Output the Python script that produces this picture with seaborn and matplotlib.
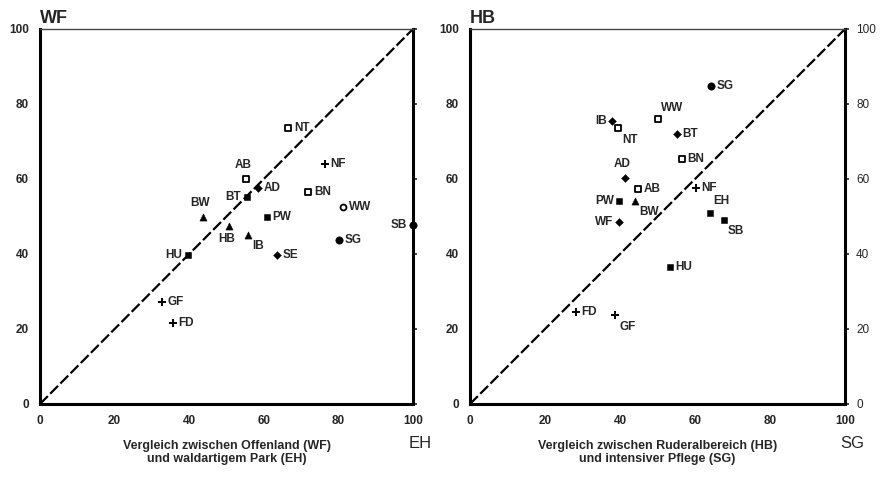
import pandas as pd
import numpy as np
import matplotlib
matplotlib.use("Agg")
import matplotlib.pyplot as plt
import seaborn as sns

sns.set_style("white")
plt.rcParams['font.family'] = ['Liberation Sans', 'DejaVu Sans']

# Left panel: WF (y) vs EH (x)
left_sites = ['NT', 'AB', 'AD', 'BT', 'NF', 'BN', 'WW', 'BW', 'PW', 'HB', 'IB',
              'SE', 'SG', 'HU', 'SB', 'GF', 'FD']
left_eh = [66.6, 55.1, 58.5, 55.4, 76.4, 71.9, 81.3, 43.6, 60.8, 50.8, 55.8,
           63.5, 80.2, 39.7, 100.0, 32.6, 35.7]
left_wf = [73.5, 59.9, 57.5, 55.3, 64.0, 56.6, 52.6, 49.8, 49.9, 47.5, 45.1,
           39.7, 43.6, 39.7, 47.6, 27.3, 21.5]

# Right panel: HB (y) vs SG (x)
right_sites = ['SG', 'WW', 'IB', 'NT', 'BT', 'BN', 'AD', 'AB', 'NF', 'PW', 'BW',
               'EH', 'SB', 'WF', 'HU', 'FD', 'GF']
right_sg = [64.2, 50.2, 37.9, 39.5, 55.1, 56.4, 41.3, 44.9, 60.3, 39.8, 44.0,
            64.0, 67.6, 39.8, 53.3, 28.3, 38.7]
right_hb = [84.9, 75.9, 75.5, 73.6, 72.0, 65.2, 60.2, 57.2, 57.5, 54.2, 54.2,
            51.0, 49.1, 48.4, 36.6, 24.5, 23.7]

ticks = [0, 20, 40, 60, 80, 100]

# marker kind and label placement per site
left_style = {
    'NT': ('os', 'r'), 'AB': ('os', 'al'), 'AD': ('dia', 'r'), 'BT': ('fs', 'l'),
    'NF': ('plus', 'r'), 'BN': ('os', 'r'), 'WW': ('oc', 'r'), 'BW': ('tri', 'al'),
    'PW': ('fs', 'r'), 'HB': ('tri', 'b'), 'IB': ('tri', 'br'), 'SE': ('dia', 'r'),
    'SG': ('fc', 'r'), 'HU': ('fs', 'l'), 'SB': ('fc', 'l'), 'GF': ('plus', 'r'),
    'FD': ('plus', 'r'),
}
right_style = {
    'SG': ('fc', 'r'), 'WW': ('os', 'ar'), 'IB': ('dia', 'l'), 'NT': ('os', 'br'),
    'BT': ('dia', 'r'), 'BN': ('os', 'r'), 'AD': ('dia', 'al'), 'AB': ('os', 'r'),
    'NF': ('plus', 'r'), 'PW': ('fs', 'l'), 'BW': ('tri', 'br'), 'EH': ('fs', 'ar'),
    'SB': ('fs', 'br'), 'WF': ('dia', 'l'), 'HU': ('fs', 'r'), 'FD': ('plus', 'r'),
    'GF': ('plus', 'br'),
}

marker_kw = {
    'os': dict(marker='s', color='white', edgecolor='black', linewidth=1.3, s=22),
    'fs': dict(marker='s', color='black', edgecolor='black', s=22),
    'dia': dict(marker='D', color='black', edgecolor='black', s=16),
    'tri': dict(marker='^', color='black', edgecolor='black', s=26),
    'fc': dict(marker='o', color='black', edgecolor='black', s=28),
    'oc': dict(marker='o', color='white', edgecolor='black', linewidth=1.3, s=18),
    'plus': dict(marker='+', color='black', linewidth=1.4, s=30),
}

offsets = {
    'r': (4, 0, 'left', 'center'),
    'l': (-4, 0, 'right', 'center'),
    'al': (-2, 6, 'center', 'bottom'),
    'ar': (2, 4, 'left', 'bottom'),
    'b': (-2, -5, 'center', 'top'),
    'br': (3, -4, 'left', 'top'),
}


def draw_panel(ax, df, style, title, corner, xlabel):
    for kind, kw in marker_kw.items():
        sub = df[[style[s][0] == kind for s in df['site']]]
        if len(sub):
            sns.scatterplot(data=sub, x='x', y='y', ax=ax, legend=False,
                            zorder=3, clip_on=False, **kw)
    for _, row in df.iterrows():
        dx, dy, ha, va = offsets[style[row['site']][1]]
        ax.annotate(row['site'], (row['x'], row['y']), xytext=(dx, dy),
                    textcoords='offset points', ha=ha, va=va, fontsize=8.5,
                    fontweight='bold', zorder=4)
    ax.plot([0, 100], [0, 100], color='black', linestyle=(0, (5, 1.5)),
            linewidth=1.6, zorder=2)
    ax.set_xlim(0, 100)
    ax.set_ylim(0, 100)
    ax.set_xticks(ticks)
    ax.set_yticks(ticks)
    ax.set_xlabel(xlabel, fontsize=9, fontweight='bold', labelpad=9)
    ax.set_ylabel('')
    for lab in ax.get_xticklabels() + ax.get_yticklabels():
        lab.set_fontweight('bold')
    ax.tick_params(labelsize=8.5, length=3, width=1.2, direction='out', pad=5)
    for side in ['left', 'right', 'bottom']:
        ax.spines[side].set_linewidth(2.2)
        ax.spines[side].set_color('black')
    ax.spines['top'].set_linewidth(1.0)
    ax.spines['top'].set_color('#444444')
    ax.text(0.0, 1.005, title, transform=ax.transAxes, fontsize=13,
            fontweight='bold', ha='left', va='bottom')
    ax.text(1.02, -0.085, corner, transform=ax.transAxes, fontsize=12,
            ha='center', va='top')


fig = plt.figure(figsize=(8.81, 4.79), dpi=100)
ax1 = fig.add_axes([0.0454, 0.1566, 0.4234, 0.7829])
ax2 = fig.add_axes([0.5335, 0.1566, 0.4257, 0.7829])

left_df = pd.DataFrame({'site': left_sites, 'x': left_eh, 'y': left_wf})
right_df = pd.DataFrame({'site': right_sites, 'x': right_sg, 'y': right_hb})

draw_panel(ax1, left_df, left_style, 'WF', 'EH',
           'Vergleich zwischen Offenland (WF)\nund waldartigem Park (EH)')
draw_panel(ax2, right_df, right_style, 'HB', 'SG',
           'Vergleich zwischen Ruderalbereich (HB)\nund intensiver Pflege (SG)')

ax1.tick_params(axis='y', right=True, labelright=False)
ax2.tick_params(axis='y', right=True, labelright=True)

fig.savefig('out.png', dpi=100)
plt.close(fig)
